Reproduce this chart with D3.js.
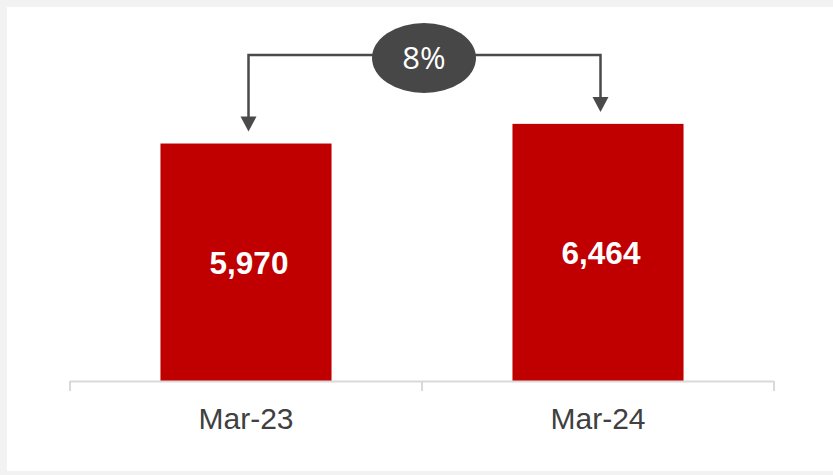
<!DOCTYPE html>
<html>
<head>
<meta charset="utf-8">
<script src="https://cdn.jsdelivr.net/npm/d3@7"></script>
<style>
  html, body { margin: 0; padding: 0; background: #f2f2f2; }
  svg { display: block; }
</style>
</head>
<body>
<script>
var width = 833;
var height = 475;

var categories = ["Mar-23", "Mar-24"];
var values = [5970, 6464];
var growthLabel = "8%";

var svg = d3.select("body").append("svg")
    .attr("width", width)
    .attr("height", height);

// white panel inside the grey frame
svg.append("rect")
  .attr("x", 7)
  .attr("y", 7)
  .attr("width", width - 7)
  .attr("height", 464)
  .attr("fill", "#ffffff");

var x = d3.scaleBand()
  .domain(categories)
  .range([70, 774])
  .paddingInner(0.514)
  .paddingOuter(0.257);

var y = d3.scaleLinear()
  .domain([0, 9000])
  .range([381, 23]);

var bars = svg.selectAll(".bar")
  .data(values)
.enter().append("rect")
  .attr("class", "bar")
  .attr("x", function(d, i) { return x(categories[i]); })
  .attr("y", function(d) { return y(d); })
  .attr("width", x.bandwidth())
  .attr("height", function(d) { return y(0) - y(d); })
  .attr("fill", "#c00000");

svg.selectAll(".val")
  .data(values)
.enter().append("text")
  .attr("class", "val")
  .attr("x", function(d, i) { return x(categories[i]) + x.bandwidth() / 2 + 3; })
  .attr("y", function(d) { return (y(d) + y(0)) / 2; })
  .attr("dy", "0.36em")
  .attr("text-anchor", "middle")
  .attr("fill", "#ffffff")
  .style("font-family", "'Liberation Sans', Arial, sans-serif")
  .style("font-weight", "bold")
  .style("font-size", "31.5px")
  .text(function(d) { return d3.format(",")(d); });

// axis: baseline, ticks on the band edges, labels centred
var axisG = svg.append("g");
var edges = [70, 70 + x.step(), 774];
axisG.append("line")
  .attr("x1", 70).attr("x2", 774)
  .attr("y1", y(0) + 0.5).attr("y2", y(0) + 0.5)
  .attr("stroke", "#d9d9d9")
  .attr("stroke-width", 2);
axisG.selectAll(".tk")
  .data(edges)
.enter().append("line")
  .attr("x1", function(d) { return d; })
  .attr("x2", function(d) { return d; })
  .attr("y1", y(0))
  .attr("y2", y(0) + 10)
  .attr("stroke", "#d9d9d9")
  .attr("stroke-width", 2);
axisG.selectAll(".lbl")
  .data(categories)
.enter().append("text")
  .attr("x", function(d) { return x(d) + x.bandwidth() / 2; })
  .attr("y", 429)
  .attr("text-anchor", "middle")
  .attr("fill", "#404040")
  .style("font-family", "'Liberation Sans', Arial, sans-serif")
  .style("font-size", "30px")
  .text(function(d) { return d; });

// growth connector
var arrowColor = "#4a4a4a";
var lineY = 55;
var ax = categories.map(function(c) { return x(c) + x.bandwidth() / 2 + 2.5; });
var tipY = values.map(function(v) { return y(v) - 12; });

svg.append("path")
  .attr("d", "M" + ax[0] + "," + (tipY[0] - 14) + " V" + lineY + " H" + ax[1] + " V" + (tipY[1] - 14))
  .attr("fill", "none")
  .attr("stroke", arrowColor)
  .attr("stroke-width", 2.5);

svg.selectAll(".head")
  .data(ax)
.enter().append("path")
  .attr("d", function(d, i) {
    return "M" + (d - 8) + "," + (tipY[i] - 15) + " L" + (d + 8) + "," + (tipY[i] - 15) + " L" + d + "," + tipY[i] + " Z";
  })
  .attr("fill", arrowColor);

svg.append("ellipse")
  .attr("cx", 424)
  .attr("cy", 58)
  .attr("rx", 52)
  .attr("ry", 35)
  .attr("fill", "#474747");

svg.append("text")
  .attr("x", 424)
  .attr("y", 58)
  .attr("dy", "0.36em")
  .attr("text-anchor", "middle")
  .attr("fill", "#ffffff")
  .style("font-family", "'Open Sans', sans-serif")
  .style("font-size", "31px")
  .text(growthLabel);
</script>
</body>
</html>
